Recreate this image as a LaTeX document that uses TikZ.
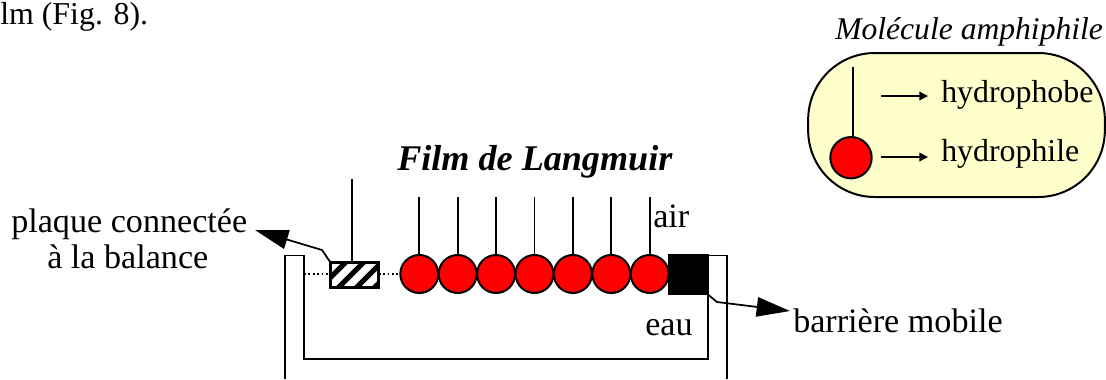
\documentclass[tikz,border=0pt]{standalone}
\usepackage{fontspec}
\setmainfont{Liberation Serif}
\usetikzlibrary{arrows.meta,calc}
\definecolor{paleyellow}{HTML}{FFFFCC}
\definecolor{headred}{HTML}{FF0000}
\tikzset{
  line/.style={draw=black,line width=1.3pt},
  head/.style={circle,draw=black,fill=headred,line width=1.5pt,minimum size=28.5pt,inner sep=0pt},
  label/.style={inner sep=0pt,anchor=base west,font=\fontsize{23.9}{26}\selectfont},
  biglabel/.style={label,font=\fontsize{25.6}{28}\selectfont},
  bigarrow/.style={line,-{Triangle[length=25pt,width=14.5pt]}},
  smallarrow/.style={line width=1.1pt,draw=black,-{Triangle[length=6.5pt,width=6.5pt]}},
}
\begin{document}
\begin{tikzpicture}[x=0.75pt,y=-0.75pt]
\useasboundingbox (0,0) rectangle (1106,379);
% text
\node[label] (cut) at (0,24) {lm (Fig. 8).};
\node[label,font=\fontsize{23.7}{26}\itshape\selectfont] (mol) at (835,39) {Molécule amphiphile};
\node[label,font=\fontsize{27.1}{30}\bfseries\itshape\selectfont] (film) at (397,170) {Film de Langmuir};
\node[biglabel] (plaque) at (11,232) {plaque connectée};
\node[biglabel] (bal) at (47,268) {à la balance};
\node[biglabel] (air) at (653,227) {air};
\node[biglabel] (eau) at (645,335) {eau};
\node[biglabel] (barr) at (793,332) {barrière mobile};
% amphiphile box
\node[draw=black,line width=1.5pt,fill=paleyellow,rounded corners=50pt,minimum width=222.5pt,minimum height=108pt,inner sep=0pt] (box) at (956.5,125) {};
\node[label] (phob) at (941,102) {hydrophobe};
\node[label] (phil) at (941,161) {hydrophile};
\node[head,minimum size=31pt] (hm) at (851,157.7) {};
\coordinate (hmt) at (853,67);
\draw[line,line width=1.3pt] (hmt) -- (853,137);
\coordinate (a1) at (881,96);
\coordinate (a2) at (881,157);
\draw[smallarrow] (a1) -- (928,96);
\draw[smallarrow] (a2) -- (928,157);
% trough
\coordinate (t1) at (285,379);
\coordinate (t2) at (285,255.5);
\coordinate (t3) at (304,255.5);
\coordinate (t4) at (304,359);
\coordinate (t5) at (708,359);
\coordinate (t6) at (708,255.5);
\coordinate (t7) at (726.7,255.5);
\coordinate (t8) at (726.7,379);
\draw[line,line join=miter] (t1) -- (t2) -- (t3) -- (t4) -- (t5) -- (t6) -- (t7) -- (t8);
% plate
\node[draw=black,line width=1.5pt,fill=white,minimum width=35pt,minimum height=18pt,inner sep=0pt] (plate) at (354.5,275) {};
\begin{scope}
\clip (plate.south west) rectangle (plate.north east);
\foreach \x in {318,336,354,372,390}
  \draw[black,line width=3.8pt] (\x,290) -- (\x+30,260);
\end{scope}
\draw[line] (plate.south west) rectangle (plate.north east);
\coordinate (pt) at (352,179);
\draw[line] (pt) -- (plate.north -| pt);
% dotted
\coordinate (d0) at (304,274);
\draw[line,dotted,line width=1.3pt] (d0) -- (plate.west |- d0);
% heads
\foreach \i in {0,...,6}{
  \node[head] (h\i) at (419.3+38.4*\i,274) {};
  \coordinate (s\i) at (419.3+38.4*\i,197);
  \draw[line] (s\i) -- (h\i.north);
}
\draw[line,dotted,line width=1.3pt] (plate.east |- h0) -- (h0.west);
% barrier
\node[fill=black,draw=black,line width=0pt,minimum width=30pt,minimum height=30pt,inner sep=0pt] (bar) at (688,274.6) {};
% pointers
\coordinate (lb) at (322,250);
\coordinate (lt) at (255,230);
\draw[bigarrow] (plate.north west) -- (lb) -- (lt);
\coordinate (rb) at (717,302);
\coordinate (rt) at (790,311);
\draw[bigarrow] (bar.south east) -- (rb) -- (rt);
\end{tikzpicture}
\end{document}
